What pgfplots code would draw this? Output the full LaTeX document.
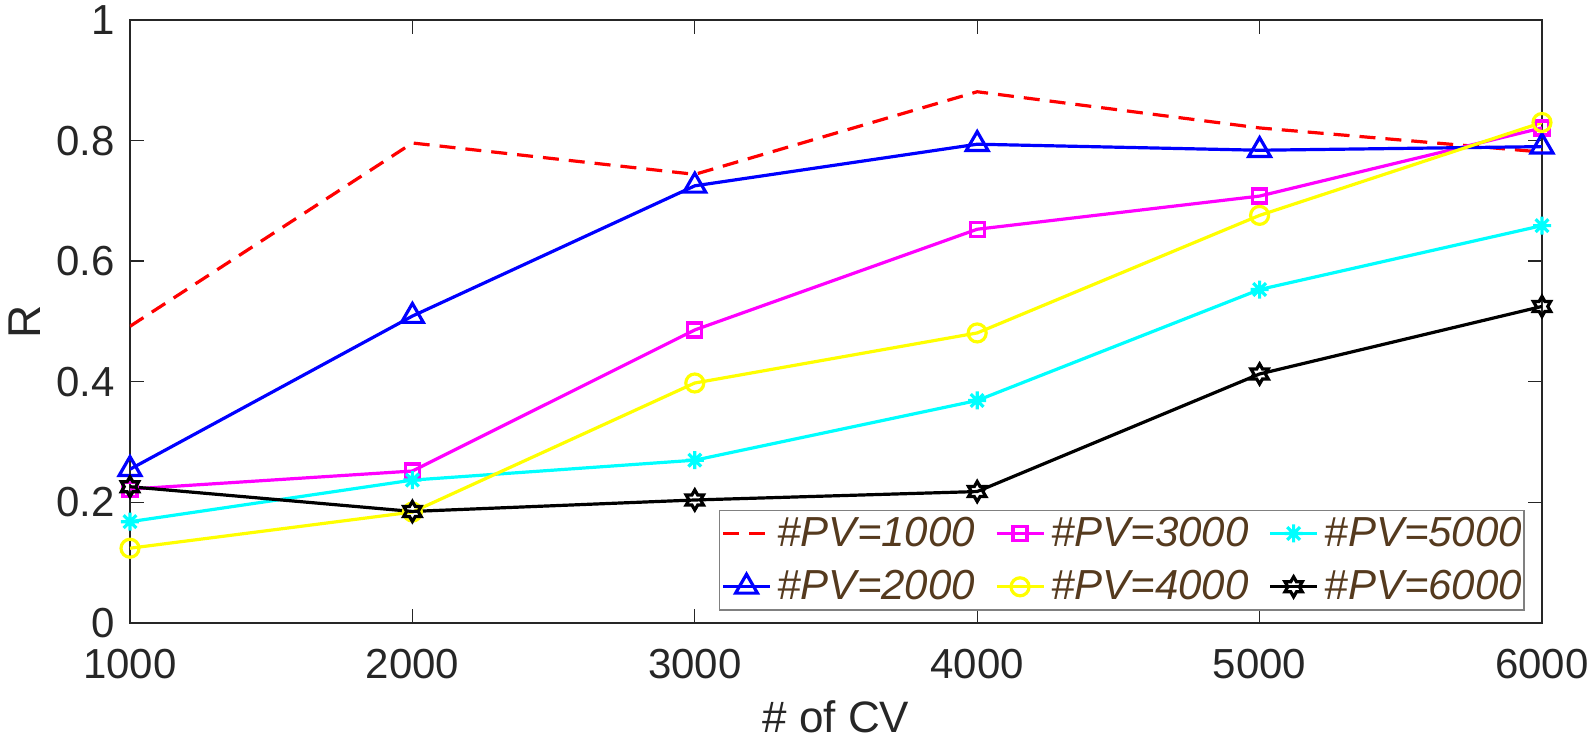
\documentclass[border=0pt]{standalone}
\usepackage{fontspec}
\setmainfont{Liberation Sans}
\usepackage{pgfplots}
\pgfplotsset{compat=1.18}
\definecolor{axgray}{RGB}{38,38,38}
\definecolor{legbrown}{RGB}{85,58,30}
\definecolor{leggray}{RGB}{128,128,128}
\definecolor{mred}{RGB}{255,0,0}
\definecolor{mblue}{RGB}{0,0,255}
\definecolor{mmag}{RGB}{255,0,255}
\definecolor{myel}{RGB}{255,255,0}
\definecolor{mcyan}{RGB}{0,255,255}
\pgfdeclareplotmark{hexagram}{%
  \pgfpathmoveto{\pgfpointpolar{90}{\pgfplotmarksize}}%
  \pgfpathlineto{\pgfpointpolar{120}{0.577\pgfplotmarksize}}%
  \pgfpathlineto{\pgfpointpolar{150}{\pgfplotmarksize}}%
  \pgfpathlineto{\pgfpointpolar{180}{0.577\pgfplotmarksize}}%
  \pgfpathlineto{\pgfpointpolar{210}{\pgfplotmarksize}}%
  \pgfpathlineto{\pgfpointpolar{240}{0.577\pgfplotmarksize}}%
  \pgfpathlineto{\pgfpointpolar{270}{\pgfplotmarksize}}%
  \pgfpathlineto{\pgfpointpolar{300}{0.577\pgfplotmarksize}}%
  \pgfpathlineto{\pgfpointpolar{330}{\pgfplotmarksize}}%
  \pgfpathlineto{\pgfpointpolar{0}{0.577\pgfplotmarksize}}%
  \pgfpathlineto{\pgfpointpolar{30}{\pgfplotmarksize}}%
  \pgfpathlineto{\pgfpointpolar{60}{0.577\pgfplotmarksize}}%
  \pgfpathclose
  \pgfusepathqstroke}
\pgfdeclareplotmark{mstar}{%
  \pgfpathmoveto{\pgfqpoint{-\pgfplotmarksize}{0pt}}\pgfpathlineto{\pgfqpoint{\pgfplotmarksize}{0pt}}%
  \pgfpathmoveto{\pgfqpoint{0pt}{-\pgfplotmarksize}}\pgfpathlineto{\pgfqpoint{0pt}{\pgfplotmarksize}}%
  \pgfpathmoveto{\pgfpointpolar{45}{\pgfplotmarksize}}\pgfpathlineto{\pgfpointpolar{225}{\pgfplotmarksize}}%
  \pgfpathmoveto{\pgfpointpolar{135}{\pgfplotmarksize}}\pgfpathlineto{\pgfpointpolar{315}{\pgfplotmarksize}}%
  \pgfusepathqstroke}
\begin{document}
\begin{tikzpicture}
\begin{axis}[
  scale only axis, width=706pt, height=301.5pt,
  xmin=1000, xmax=6000, ymin=0, ymax=1,
  xtick={1000,2000,3000,4000,5000,6000},
  xticklabels={1000,2000,3000,4000,5000,6000},
  ytick={0,0.2,0.4,0.6,0.8,1},
  yticklabels={0,0.2,0.4,0.6,0.8,1},
  tick label style={font=\fontsize{21}{25}\selectfont, text=axgray},
  xticklabel style={anchor=base, inner sep=0pt, yshift=-27.5pt},
  yticklabel style={anchor=east, inner sep=0pt, xshift=-7.5pt},
  axis line style={draw=axgray, line width=0.7pt},
  tick style={draw=axgray, line width=0.7pt},
  major tick length=7pt, tick align=inside,
  xlabel={\# of CV}, ylabel={R},
  every axis x label/.style={at={(axis description cs:0.5,-0.1824)}, anchor=base, font=\fontsize{22}{26}\selectfont, text=axgray},
  every axis y label/.style={at={(axis description cs:-0.0744,0.5)}, rotate=90, anchor=center, font=\fontsize{23}{27}\selectfont, text=axgray},
  legend columns=3,
  legend cell align=left,
  legend style={at={(0.9873,0.0216)}, anchor=south east, draw=leggray, line width=0.6pt,
    outer sep=0pt, inner xsep=1pt, inner ysep=3.5pt, row sep=10.5pt,
    nodes={inner sep=0pt},
    font=\fontsize{21}{25}\selectfont\itshape, text=legbrown,
    /tikz/every even column/.append style={column sep=10pt},
    /tikz/every odd column/.append style={column sep=3pt}},
  legend image code/.code={\draw[mark repeat=2,mark phase=2] plot coordinates {(0pt,0pt)(11.75pt,0pt)(23.5pt,0pt)};},
]
\addplot[mred, line width=1.6pt, dash pattern=on 8pt off 5pt] coordinates {
 (1000,0.492) (2000,0.796) (3000,0.744) (4000,0.881) (5000,0.821) (6000,0.781)};
\addlegendentry{\#PV=1000}
\addplot[mmag, line width=1.6pt, mark=square, mark size=3.5pt, mark options={solid}] coordinates {
 (1000,0.222) (2000,0.252) (3000,0.486) (4000,0.653) (5000,0.708) (6000,0.821)};
\addlegendentry{\#PV=3000}
\addplot[mcyan, line width=1.6pt, mark=mstar, mark size=4.5pt, mark options={solid}] coordinates {
 (1000,0.168) (2000,0.237) (3000,0.270) (4000,0.369) (5000,0.553) (6000,0.659)};
\addlegendentry{\#PV=5000\hspace{5.5pt}}
\addplot[mblue, line width=1.6pt, mark=triangle, mark size=6.3pt, mark options={solid}] coordinates {
 (1000,0.255) (2000,0.509) (3000,0.725) (4000,0.794) (5000,0.784) (6000,0.790)};
\addlegendentry{\#PV=2000}
\addplot[myel, line width=1.6pt, mark=o, mark size=4.5pt, mark options={solid}] coordinates {
 (1000,0.124) (2000,0.184) (3000,0.398) (4000,0.481) (5000,0.676) (6000,0.830)};
\addlegendentry{\#PV=4000}
\addplot[black, line width=1.6pt, mark=hexagram, mark size=5pt, mark options={solid}] coordinates {
 (1000,0.226) (2000,0.185) (3000,0.204) (4000,0.218) (5000,0.413) (6000,0.525)};
\addlegendentry{\#PV=6000\hspace{5.5pt}}
\coordinate (O) at (rel axis cs:0,0);
\end{axis}
\pgfresetboundingbox
\path (O) ++(-65pt,-63.5pt) rectangle ++(795pt,375pt);
\end{tikzpicture}
\end{document}
